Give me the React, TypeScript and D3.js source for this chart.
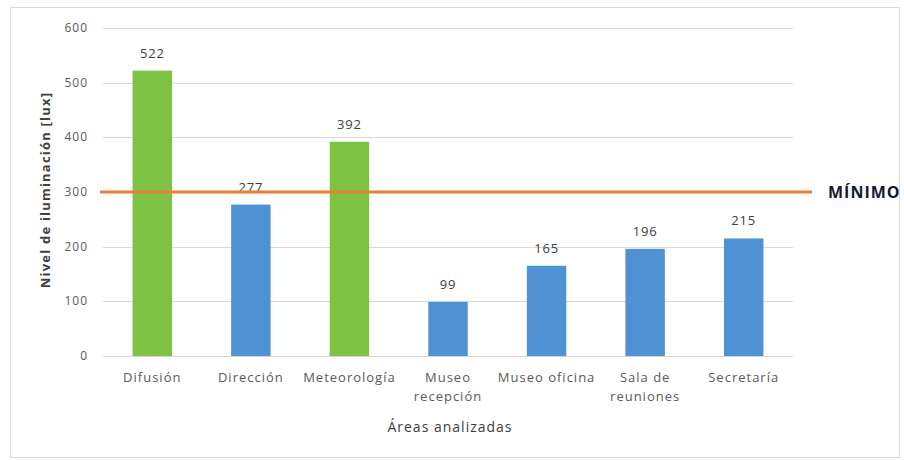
import React, { useEffect, useRef } from 'react'
import * as d3 from 'd3'

const categories = ['Difusión', 'Dirección', 'Meteorología', 'Museo recepción', 'Museo oficina', 'Sala de reuniones', 'Secretaría']
const categoryLines = [['Difusión'], ['Dirección'], ['Meteorología'], ['Museo', 'recepción'], ['Museo oficina'], ['Sala de', 'reuniones'], ['Secretaría']]
const values = [522, 277, 392, 99, 165, 196, 215]
const minimum = 300
const yTicks = [0, 100, 200, 300, 400, 500, 600]

const LuxChart: React.FC = () => {
  const ref = useRef<SVGSVGElement>(null)

  useEffect(() => {
    if (!ref.current) return
    const svg = d3.select(ref.current)
    svg.selectAll('*').remove()

    const font = '"Open Sans", Lato, sans-serif'
    const left = 103
    const right = 793
    const top = 28
    const bottom = 356

    // chart frame
    svg.append('rect')
      .attr('x', 10.5).attr('y', 7.5)
      .attr('width', 889).attr('height', 450)
      .attr('fill', '#fff')
      .attr('stroke', '#d9d9d9')

    const x = d3.scaleBand<string>().domain(categories).range([left, right]).paddingInner(0.6).paddingOuter(0.3)
    const y = d3.scaleLinear().domain([0, 600]).range([bottom, top])

    svg.append('g')
      .selectAll('line')
      .data(yTicks)
      .enter()
      .append('line')
      .attr('x1', left).attr('x2', right)
      .attr('y1', d => Math.round(y(d)) + 0.5).attr('y2', d => Math.round(y(d)) + 0.5)
      .attr('stroke', '#d9d9d9')

    svg.append('g')
      .selectAll('text')
      .data(yTicks)
      .enter()
      .append('text')
      .attr('x', 88)
      .attr('y', d => y(d) + 4)
      .attr('text-anchor', 'end')
      .attr('font-family', font)
      .attr('font-size', 12)
      .attr('letter-spacing', 1)
      .attr('fill', '#595959')
      .text(d => d)

    svg.append('g')
      .selectAll('rect')
      .data(values)
      .enter()
      .append('rect')
      .attr('x', (d, i) => x(categories[i])!)
      .attr('width', x.bandwidth())
      .attr('y', d => y(d))
      .attr('height', d => bottom - y(d))
      .attr('fill', d => (d >= minimum ? '#7dc242' : '#4f92d4'))

    svg.append('g')
      .selectAll('text')
      .data(values)
      .enter()
      .append('text')
      .attr('x', (d, i) => x(categories[i])! + x.bandwidth() / 2)
      .attr('y', d => y(d) - 13)
      .attr('text-anchor', 'middle')
      .attr('font-family', font)
      .attr('font-size', 13)
      .attr('letter-spacing', 0.8)
      .attr('fill', '#404040')
      .text(d => d)

    // minimum line
    svg.append('line')
      .attr('x1', 100).attr('x2', 812)
      .attr('y1', y(minimum)).attr('y2', y(minimum))
      .attr('stroke', '#ed7d31')
      .attr('stroke-width', 3)

    svg.append('text')
      .attr('x', 828)
      .attr('y', y(minimum) + 6)
      .attr('font-family', font)
      .attr('font-size', 16)
      .attr('font-weight', 'bold')
      .attr('letter-spacing', 1)
      .attr('fill', '#141a33')
      .text('MÍNIMO')

    const cat = svg.append('g')
    categoryLines.forEach((lines, i) => {
      const cx = x(categories[i])! + x.bandwidth() / 2
      const t = cat.append('text')
        .attr('y', 382)
        .attr('text-anchor', 'middle')
        .attr('font-family', font)
        .attr('font-size', 13)
        .attr('letter-spacing', 1)
        .attr('fill', '#595959')
      lines.forEach((l, j) => {
        t.append('tspan')
          .attr('x', cx)
          .attr('dy', j === 0 ? 0 : 19)
          .text(l)
      })
    })

    svg.append('text')
      .attr('x', 450)
      .attr('y', 432)
      .attr('text-anchor', 'middle')
      .attr('font-family', font)
      .attr('font-size', 14)
      .attr('letter-spacing', 1)
      .attr('fill', '#404040')
      .text('Áreas analizadas')

    svg.append('text')
      .attr('transform', `translate(50, 190) rotate(-90)`)
      .attr('text-anchor', 'middle')
      .attr('font-family', font)
      .attr('font-size', 13)
      .attr('font-weight', 'bold')
      .attr('letter-spacing', 1.2)
      .attr('fill', '#404040')
      .text('Nivel de iluminación [lux]')
  }, [])

  return <svg ref={ref} width={904} height={460} style={{ display: 'block' }} />
}

export default function App() {
  return (
    <div style={{ position: 'absolute', left: 0, top: 0, width: 904, height: 460, background: '#fff' }}>
      <LuxChart />
    </div>
  )
}
